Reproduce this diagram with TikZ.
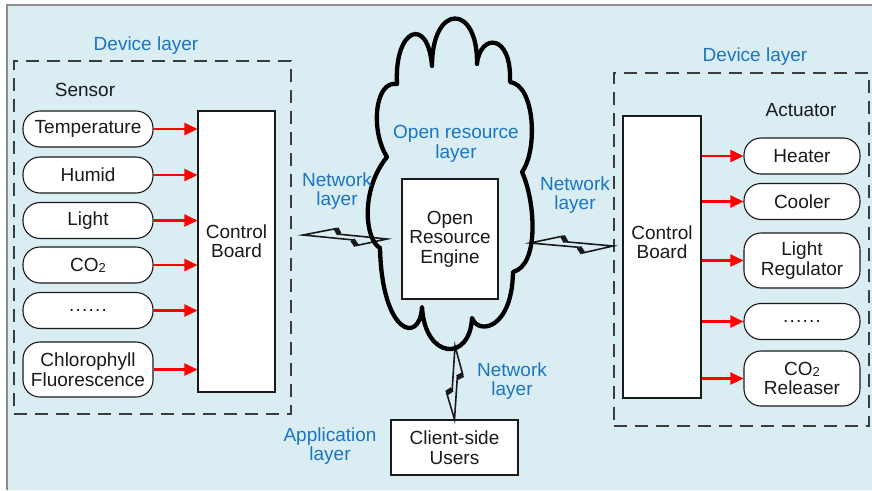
\documentclass[tikz,border=0pt]{standalone}
\usepackage{fontspec}
\setmainfont{Liberation Sans}
\usetikzlibrary{arrows.meta,calc}
\definecolor{bgblue}{HTML}{DAEDF3}
\definecolor{layerblue}{HTML}{1A75C4}
\definecolor{framegray}{HTML}{8C8C8C}
\definecolor{ink}{HTML}{1A1A1A}

% lightning-bolt link between two points
\newcommand\drawbolt[2]{%
  \draw[boltline] (#1)
    -- ($(#1)!0.39!(#2)!8pt!90:(#2)$)
    -- ($(#1)!0.43!(#2)!2.5pt!90:(#2)$)
    -- (#2)
    -- ($(#1)!0.64!(#2)!8pt!-90:(#2)$)
    -- ($(#1)!0.59!(#2)!2.5pt!-90:(#2)$)
    -- cycle;
  \draw[boltstep] ($(#1)!0.39!(#2)!8pt!90:(#2)$) -- ($(#1)!0.43!(#2)!2.5pt!90:(#2)$);
  \draw[boltstep] ($(#1)!0.64!(#2)!8pt!-90:(#2)$) -- ($(#1)!0.59!(#2)!2.5pt!-90:(#2)$);
}
% spaced row of six dots
\newcommand\dotrow{.\hspace{1.2pt}.\hspace{1.2pt}.\hspace{1.2pt}.\hspace{1.2pt}.\hspace{1.2pt}.}
\newcommand\cotwo{CO\raisebox{-1pt}{\fontsize{13}{13}\selectfont 2}}

\begin{document}
\begin{tikzpicture}[x=1pt,y=-1pt,
  font=\fontsize{19}{19.5}\selectfont, text=ink,
  box/.style={draw=ink, line width=1.1pt, fill=white, inner sep=0pt, align=center},
  pill/.style={box, rounded corners=17pt, minimum height=36pt},
  spill/.style={pill, minimum width=130pt},
  apill/.style={pill, minimum width=116pt},
  tallpill/.style={minimum height=55pt},
  frame/.style={draw=ink!85, dash pattern=on 13pt off 8pt, line width=1.4pt, inner sep=0pt},
  layer/.style={text=layerblue, align=center},
  sig/.style={draw=red, line width=2.5pt, -{Triangle[length=13pt,width=12pt]}},
  boltline/.style={draw=ink, line width=1.6pt, line join=miter},
  boltstep/.style={draw=ink, line width=5pt},
]
\useasboundingbox (0,0) rectangle (872,490);

% panel background
\fill[bgblue] (7,5) rectangle (872,490);
\draw[framegray, line width=1.6pt] (7,490) -- (7,5) -- (872,5);

% device-layer frames
\node[frame, minimum width=277pt, minimum height=353pt] (lframe) at (152.5,237.5) {};
\node[frame, minimum width=255pt, minimum height=353pt] (rframe) at (741.5,249.5) {};
\node[layer] (ldev) at (146,46) {Device layer};
\node[layer] (rdev) at (755,57) {Device layer};
\node (sensor) at (85,90) {Sensor};
\node (actuator) at (801,110) {Actuator};

% control boards
\node[box, minimum width=77pt, minimum height=281pt] (lboard) at (236.5,251.5) {};
\node (lboardtxt) [align=center] at (236.5,241) {Control\\Board};
\node[box, minimum width=78pt, minimum height=282pt] (rboard) at (662,257) {};
\node (rboardtxt) [align=center] at (662,242) {Control\\Board};

% sensors
\node[spill] (s1) at (88,129) {Temperature};
\node[spill] (s2) at (88,175) {Humid};
\node[spill] (s3) at (88,220.5) {Light};
\node[spill] (s4) at (88,265) {\cotwo};
\node[spill] (s5) at (88,310.5) {\dotrow};
\node[spill, tallpill] (s6) at (88,369.5) {Chlorophyll\\Fluorescence};

% actuators
\node[apill] (a1) at (802,156) {Heater};
\node[apill] (a2) at (802,201.5) {Cooler};
\node[apill, tallpill] (a3) at (802,260.5) {Light\\Regulator};
\node[apill] (a4) at (802,321.5) {\dotrow};
\node[apill, tallpill] (a5) at (802,378.5) {\cotwo\\Releaser};

% signal arrows
\foreach \s in {s1,s2,s3,s4,s5,s6}
  \draw[sig] (\s.east) -- (\s.east -| lboard.west);
\foreach \a in {a1,a2,a3,a4,a5}
  \draw[sig] (\a.west -| rboard.east) -- (\a.west);

% client side
\node[box, minimum width=127pt, minimum height=55pt] (client) at (454.5,447.5) {Client-side\\Users};

% wireless links
\coordinate (lbA) at (303,235);
\coordinate (lbB) at (387,239);
\coordinate (rbA) at (530,243);
\coordinate (rbB) at (613,246);
\coordinate (bbA) at (455,346);
\drawbolt{lbA}{lbB}
\drawbolt{rbA}{rbB}
\drawbolt{bbA}{client.north}

% open resource cloud
\draw[black, line width=4.3pt, line join=round]
  (397,84) .. controls (394,28) and (428,15) .. (432,66)
  .. controls (432,3) and (478,3) .. (477,64)
  .. controls (480,33) and (512,33) .. (510,82)
  .. controls (535,85) and (538,150) .. (522,172)
  .. controls (535,200) and (540,265) .. (513,272)
  .. controls (512,330) and (478,335) .. (472,318)
  .. controls (470,362) and (425,360) .. (422,307)
  .. controls (420,345) and (382,335) .. (380,248)
  .. controls (365,240) and (360,190) .. (387,157)
  .. controls (370,130) and (375,80) .. (397,84) -- cycle;

\node[box, minimum width=96pt, minimum height=120pt] (engine) at (450,239) {Open\\Resource\\Engine};

% layer labels
\node[layer] (orl) at (456,144) {Open resource\\layer};
\node[layer] (nl1) at (337,191) {Network\\layer};
\node[layer] (nl2) at (575,195) {Network\\layer};
\node[layer] (nl3) at (512,381) {Network\\layer};
\node[layer] (appl) at (330,446) {Application\\layer};
\end{tikzpicture}
\end{document}
